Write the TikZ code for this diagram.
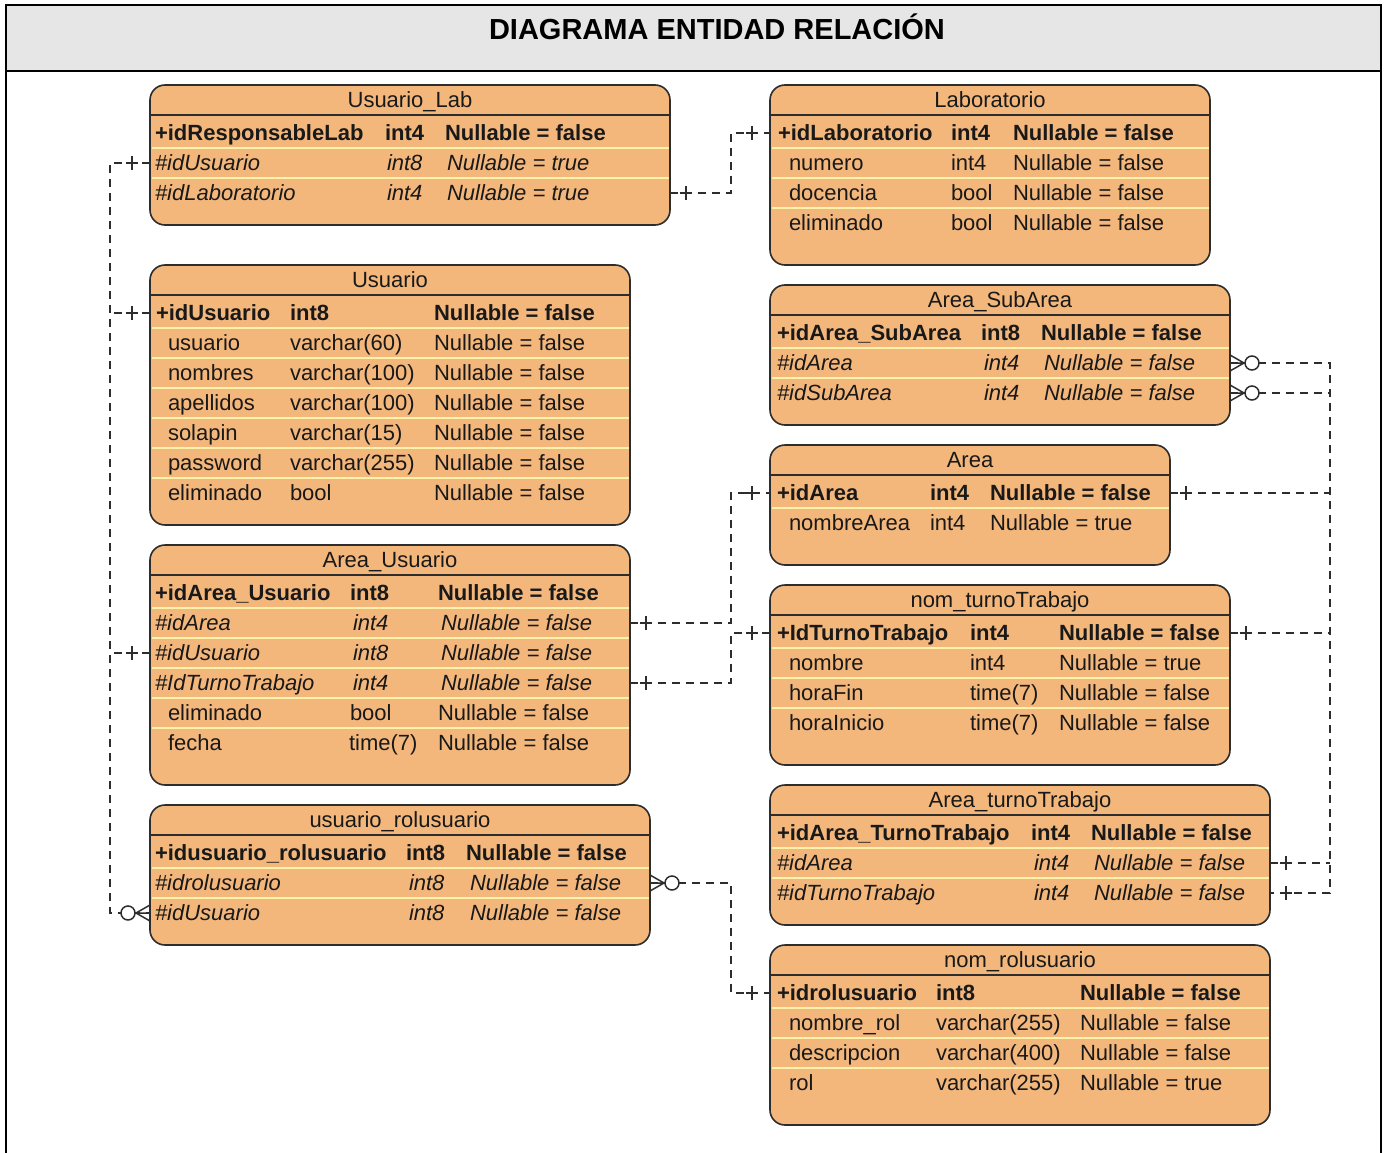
\documentclass[tikz,border=0pt]{standalone}
\usepackage{fontspec}
\setmainfont{Liberation Sans}
\definecolor{entfill}{RGB}{243,183,124}
\definecolor{rowsep}{RGB}{255,243,172}
\definecolor{bandgray}{RGB}{230,230,230}
\definecolor{inkline}{RGB}{45,45,45}

% entity box: name, left, right, top, bottom, title, number of rows
\newcommand\etable[7]{%
  \node[entbox, anchor=north west, minimum width={#3-#2}, minimum height={#5-#4}] (#1) at (#2,#4) {};
  \node[celltitle, anchor=base] (#1-title) at ({(#2+#3)/2},{#4+22.5}) {#6};
  \draw[headline] (#2,{#4+30}) -- (#3,{#4+30});
  \foreach \k in {2,...,#7} {\draw[rowline] ({#2+1.5},{#4+33+30*(\k-1)}) -- ({#3-1.5},{#4+33+30*(\k-1)});}
}
% one attribute row: name, style, centre y, three columns (x, text)
\newcommand\erow[9]{%
  \coordinate (#1) at (0,#3);
  \node[cell,#2,anchor=base west] (#1-a) at (#4,{#3+7.5}) {#5};
  \node[cell,#2,anchor=base west] (#1-b) at (#6,{#3+7.5}) {#7};
  \node[cell,#2,anchor=base west] (#1-c) at (#8,{#3+7.5}) {#9};}
% "one" mark: attach point, x offset of the bar
\newcommand\onebar[2]{%
  \draw[marker] (#1) ++(#2,-7) -- ++(0,14);
  \draw[marker] (#1) ++({#2-6},0) -- ++(12,0);}
% "zero or many" mark: attach point, side (+1 right of box, -1 left of box)
\newcommand\crowfoot[2]{%
  \draw[marker] (#1) ++({#2*14},0) -- ++({-(#2)*14},-8)
                (#1) ++({#2*14},0) -- ++({-(#2)*14},0)
                (#1) ++({#2*14},0) -- ++({-(#2)*14},8);
  \draw[marker, fill=white] (#1) ++({#2*22},0) circle[radius=7pt];}

\begin{document}
\begin{tikzpicture}[x=1pt,y=-1pt,
  entbox/.style={draw=inkline, line width=1.6pt, fill=entfill, rounded corners=15pt, inner sep=0pt, outer sep=0pt},
  headline/.style={draw=inkline, line width=2pt},
  rowline/.style={draw=rowsep, line width=2.4pt},
  cell/.style={inner sep=0pt, outer sep=0pt, text=black!90, font=\fontsize{22}{24}\selectfont},
  celltitle/.style={cell},
  keyrow/.style={font=\fontsize{22}{24}\selectfont\bfseries},
  fkrow/.style={font=\fontsize{22}{24}\selectfont\itshape},
  plainrow/.style={},
  conn/.style={draw=inkline, line width=1.5pt, dash pattern=on 8pt off 6pt},
  marker/.style={draw=inkline, line width=1.5pt, solid}]
\useasboundingbox (0,0) rectangle (1389,1153);

% frame and heading band
\fill[bandgray] (6,5) rectangle (1381,71);
\draw[line width=2pt] (6,71) -- (1381,71);
\draw[line width=2.5pt] (6,1153) -- (6,5) -- (1381,5) -- (1381,1153);
\node[font=\fontsize{29}{32}\selectfont\bfseries, anchor=base] (heading) at (717,40) {DIAGRAMA ENTIDAD RELACIÓN};

% ---------- entities ----------
\etable{ulab}{150}{670}{85}{225}{Usuario\_Lab}{3}
\erow{ulab1}{keyrow}{133}{155}{+idResponsableLab}{385}{int4}{445}{Nullable = false}
\erow{ulab2}{fkrow}{163}{155}{\#idUsuario}{387}{int8}{447}{Nullable = true}
\erow{ulab3}{fkrow}{193}{155}{\#idLaboratorio}{387}{int4}{447}{Nullable = true}

\etable{lab}{770}{1210}{85}{265}{Laboratorio}{4}
\erow{lab1}{keyrow}{133}{778}{+idLaboratorio}{951}{int4}{1013}{Nullable = false}
\erow{lab2}{plainrow}{163}{789}{numero}{951}{int4}{1013}{Nullable = false}
\erow{lab3}{plainrow}{193}{789}{docencia}{951}{bool}{1013}{Nullable = false}
\erow{lab4}{plainrow}{223}{789}{eliminado}{951}{bool}{1013}{Nullable = false}

\etable{usr}{150}{630}{265}{525}{Usuario}{7}
\erow{usr1}{keyrow}{313}{156}{+idUsuario}{290}{int8}{434}{Nullable = false}
\erow{usr2}{plainrow}{343}{168}{usuario}{290}{varchar(60)}{434}{Nullable = false}
\erow{usr3}{plainrow}{373}{168}{nombres}{290}{varchar(100)}{434}{Nullable = false}
\erow{usr4}{plainrow}{403}{168}{apellidos}{290}{varchar(100)}{434}{Nullable = false}
\erow{usr5}{plainrow}{433}{168}{solapin}{290}{varchar(15)}{434}{Nullable = false}
\erow{usr6}{plainrow}{463}{168}{password}{290}{varchar(255)}{434}{Nullable = false}
\erow{usr7}{plainrow}{493}{168}{eliminado}{290}{bool}{434}{Nullable = false}

\etable{asub}{770}{1230}{285}{425}{Area\_SubArea}{3}
\erow{asub1}{keyrow}{333}{777}{+idArea\_SubArea}{981}{int8}{1041}{Nullable = false}
\erow{asub2}{fkrow}{363}{777}{\#idArea}{984}{int4}{1044}{Nullable = false}
\erow{asub3}{fkrow}{393}{777}{\#idSubArea}{984}{int4}{1044}{Nullable = false}

\etable{area}{770}{1170}{445}{565}{Area}{2}
\erow{area1}{keyrow}{493}{777}{+idArea}{930}{int4}{990}{Nullable = false}
\erow{area2}{plainrow}{523}{789}{nombreArea}{930}{int4}{990}{Nullable = true}

\etable{ausr}{150}{630}{545}{785}{Area\_Usuario}{6}
\erow{ausr1}{keyrow}{593}{155}{+idArea\_Usuario}{350}{int8}{438}{Nullable = false}
\erow{ausr2}{fkrow}{623}{155}{\#idArea}{353}{int4}{441}{Nullable = false}
\erow{ausr3}{fkrow}{653}{155}{\#idUsuario}{353}{int8}{441}{Nullable = false}
\erow{ausr4}{fkrow}{683}{155}{\#IdTurnoTrabajo}{353}{int4}{441}{Nullable = false}
\erow{ausr5}{plainrow}{713}{168}{eliminado}{350}{bool}{438}{Nullable = false}
\erow{ausr6}{plainrow}{743}{168}{fecha}{349}{time(7)}{438}{Nullable = false}

\etable{ntur}{770}{1230}{585}{765}{nom\_turnoTrabajo}{4}
\erow{ntur1}{keyrow}{633}{777}{+IdTurnoTrabajo}{970}{int4}{1059}{Nullable = false}
\erow{ntur2}{plainrow}{663}{789}{nombre}{970}{int4}{1059}{Nullable = true}
\erow{ntur3}{plainrow}{693}{789}{horaFin}{970}{time(7)}{1059}{Nullable = false}
\erow{ntur4}{plainrow}{723}{789}{horaInicio}{970}{time(7)}{1059}{Nullable = false}

\etable{atur}{770}{1270}{785}{925}{Area\_turnoTrabajo}{3}
\erow{atur1}{keyrow}{833}{777}{+idArea\_TurnoTrabajo}{1031}{int4}{1091}{Nullable = false}
\erow{atur2}{fkrow}{863}{777}{\#idArea}{1034}{int4}{1094}{Nullable = false}
\erow{atur3}{fkrow}{893}{777}{\#idTurnoTrabajo}{1034}{int4}{1094}{Nullable = false}

\etable{urol}{150}{650}{805}{945}{usuario\_rolusuario}{3}
\erow{urol1}{keyrow}{853}{155}{+idusuario\_rolusuario}{406}{int8}{466}{Nullable = false}
\erow{urol2}{fkrow}{883}{155}{\#idrolusuario}{409}{int8}{470}{Nullable = false}
\erow{urol3}{fkrow}{913}{155}{\#idUsuario}{409}{int8}{470}{Nullable = false}

\etable{nrol}{770}{1270}{945}{1125}{nom\_rolusuario}{4}
\erow{nrol1}{keyrow}{993}{777}{+idrolusuario}{936}{int8}{1080}{Nullable = false}
\erow{nrol2}{plainrow}{1023}{789}{nombre\_rol}{936}{varchar(255)}{1080}{Nullable = false}
\erow{nrol3}{plainrow}{1053}{789}{descripcion}{936}{varchar(400)}{1080}{Nullable = false}
\erow{nrol4}{plainrow}{1083}{789}{rol}{936}{varchar(255)}{1080}{Nullable = true}

% ---------- attach points on the box edges ----------
\coordinate (ulab-usr)  at (ulab.west |- ulab2);
\coordinate (ulab-lab)  at (ulab.east |- ulab3);
\coordinate (usr-pk)    at (usr.west |- usr1);
\coordinate (ausr-usr)  at (ausr.west |- ausr3);
\coordinate (urol-usr)  at (urol.west |- urol3);
\coordinate (lab-pk)    at (lab.west |- lab1);
\coordinate (ausr-area) at (ausr.east |- ausr2);
\coordinate (ausr-tur)  at (ausr.east |- ausr4);
\coordinate (area-pkw)  at (area.west |- area1);
\coordinate (ntur-pkw)  at (ntur.west |- ntur1);
\coordinate (urol-rol)  at (urol.east |- urol2);
\coordinate (nrol-pk)   at (nrol.west |- nrol1);
\coordinate (asub-area) at (asub.east |- asub2);
\coordinate (asub-sub)  at (asub.east |- asub3);
\coordinate (area-pke)  at (area.east |- area1);
\coordinate (ntur-pke)  at (ntur.east |- ntur1);
\coordinate (atur-area) at (atur.east |- atur2);
\coordinate (atur-tur)  at (atur.east |- atur3);
\coordinate (trunkL) at (110,0);
\coordinate (trunkM) at (731,0);
\coordinate (trunkR) at (1330,0);

% ---------- connectors ----------
% idUsuario
\draw[conn] (ulab-usr) -- (ulab-usr -| trunkL) -- (urol-usr -| trunkL) -- (urol-usr);
\draw[conn] (usr-pk) -- (usr-pk -| trunkL);
\draw[conn] (ausr-usr) -- (ausr-usr -| trunkL);
% idLaboratorio
\draw[conn] (ulab-lab) -| (trunkM |- lab-pk) -- (lab-pk);
% Area_Usuario to Area and nom_turnoTrabajo
\draw[conn] (ausr-area) -| (trunkM |- area-pkw) -- (area-pkw);
\draw[conn] (ausr-tur) -| (trunkM |- ntur-pkw) -- (ntur-pkw);
% idrolusuario
\draw[conn] (urol-rol) -| (trunkM |- nrol-pk) -- (nrol-pk);
% right-hand links
\draw[conn] (asub-area) -- (asub-area -| trunkR) -- (atur-tur -| trunkR) -- (atur-tur);
\draw[conn] (asub-sub) -- (asub-sub -| trunkR);
\draw[conn] (area-pke) -- (area-pke -| trunkR);
\draw[conn] (ntur-pke) -- (ntur-pke -| trunkR);
\draw[conn] (atur-area) -- (atur-area -| trunkR);

% ---------- cardinality marks ----------
\onebar{ulab-usr}{-18}
\onebar{usr-pk}{-18}
\onebar{ausr-usr}{-18}
\onebar{ulab-lab}{16}
\onebar{lab-pk}{-18}
\onebar{area-pkw}{-18}
\onebar{ntur-pkw}{-18}
\onebar{nrol-pk}{-18}
\onebar{ausr-area}{16}
\onebar{ausr-tur}{16}
\onebar{area-pke}{16}
\onebar{ntur-pke}{16}
\onebar{atur-area}{16}
\onebar{atur-tur}{16}
\crowfoot{asub-area}{1}
\crowfoot{asub-sub}{1}
\crowfoot{urol-rol}{1}
\crowfoot{urol-usr}{-1}
\end{tikzpicture}
\end{document}
